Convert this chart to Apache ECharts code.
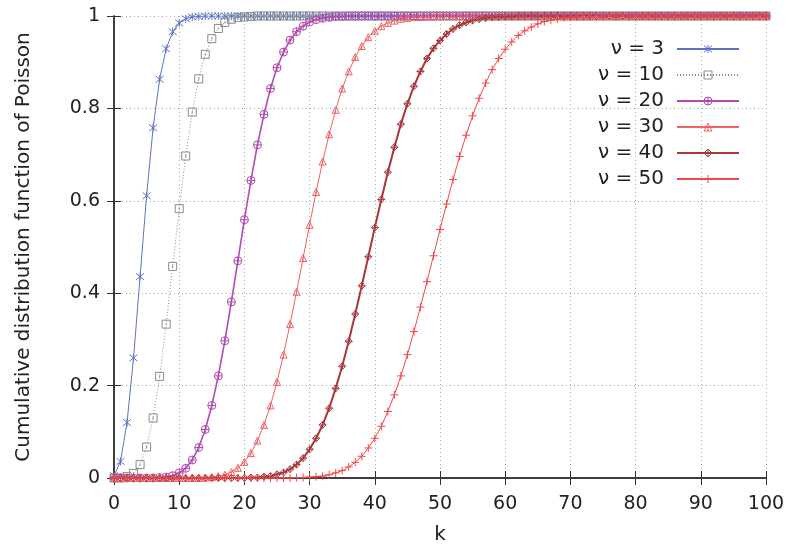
<!DOCTYPE html>
<html>
<head>
<meta charset="utf-8">
<script src="https://cdn.jsdelivr.net/npm/echarts@6/dist/echarts.min.js"></script>
<style>
  html, body { margin: 0; padding: 0; background: #fff; }
  #chart { width: 793px; height: 546px; }
</style>
</head>
<body>
<div id="chart"></div>
<script>
// k = 0..100
var ks = [
  0, 1, 2, 3, 4, 5, 6, 7, 8, 9,
  10, 11, 12, 13, 14, 15, 16, 17, 18, 19,
  20, 21, 22, 23, 24, 25, 26, 27, 28, 29,
  30, 31, 32, 33, 34, 35, 36, 37, 38, 39,
  40, 41, 42, 43, 44, 45, 46, 47, 48, 49,
  50, 51, 52, 53, 54, 55, 56, 57, 58, 59,
  60, 61, 62, 63, 64, 65, 66, 67, 68, 69,
  70, 71, 72, 73, 74, 75, 76, 77, 78, 79,
  80, 81, 82, 83, 84, 85, 86, 87, 88, 89,
  90, 91, 92, 93, 94, 95, 96, 97, 98, 99,
  100
]

var nu3 = [
  0.005, 0.036, 0.120, 0.260, 0.436, 0.611, 0.758, 0.863, 0.929, 0.966,
  0.985, 0.994, 0.998, 0.999, 1, 1, 1, 1, 1, 1,
  1, 1, 1, 1, 1, 1, 1, 1, 1, 1,
  1, 1, 1, 1, 1, 1, 1, 1, 1, 1,
  1, 1, 1, 1, 1, 1, 1, 1, 1, 1,
  1, 1, 1, 1, 1, 1, 1, 1, 1, 1,
  1, 1, 1, 1, 1, 1, 1, 1, 1, 1,
  1, 1, 1, 1, 1, 1, 1, 1, 1, 1,
  1, 1, 1, 1, 1, 1, 1, 1, 1, 1,
  1, 1, 1, 1, 1, 1, 1, 1, 1, 1,
  1
]
var nu10 = [
  0, 0, 0.003, 0.010, 0.029, 0.067, 0.130, 0.220, 0.333, 0.458,
  0.583, 0.697, 0.792, 0.864, 0.917, 0.951, 0.973, 0.986, 0.993, 0.997,
  0.998, 0.999, 1, 1, 1, 1, 1, 1, 1, 1,
  1, 1, 1, 1, 1, 1, 1, 1, 1, 1,
  1, 1, 1, 1, 1, 1, 1, 1, 1, 1,
  1, 1, 1, 1, 1, 1, 1, 1, 1, 1,
  1, 1, 1, 1, 1, 1, 1, 1, 1, 1,
  1, 1, 1, 1, 1, 1, 1, 1, 1, 1,
  1, 1, 1, 1, 1, 1, 1, 1, 1, 1,
  1, 1, 1, 1, 1, 1, 1, 1, 1, 1,
  1
]
var nu20 = [
  0, 0, 0, 0, 0, 0, 0, 0.001, 0.002, 0.005,
  0.011, 0.021, 0.039, 0.066, 0.105, 0.157, 0.221, 0.297, 0.381, 0.470,
  0.559, 0.644, 0.721, 0.787, 0.843, 0.888, 0.922, 0.948, 0.966, 0.978,
  0.987, 0.992, 0.995, 0.997, 0.999, 0.999, 1, 1, 1, 1,
  1, 1, 1, 1, 1, 1, 1, 1, 1, 1,
  1, 1, 1, 1, 1, 1, 1, 1, 1, 1,
  1, 1, 1, 1, 1, 1, 1, 1, 1, 1,
  1, 1, 1, 1, 1, 1, 1, 1, 1, 1,
  1, 1, 1, 1, 1, 1, 1, 1, 1, 1,
  1, 1, 1, 1, 1, 1, 1, 1, 1, 1,
  1
]
var nu30 = [
  0, 0, 0, 0, 0, 0, 0, 0, 0, 0,
  0, 0, 0, 0, 0.001, 0.002, 0.004, 0.007, 0.013, 0.022,
  0.035, 0.054, 0.081, 0.115, 0.157, 0.208, 0.267, 0.333, 0.403, 0.476,
  0.548, 0.619, 0.685, 0.744, 0.797, 0.843, 0.880, 0.911, 0.935, 0.954,
  0.968, 0.978, 0.985, 0.990, 0.994, 0.996, 0.998, 0.998, 0.999, 0.999,
  1, 1, 1, 1, 1, 1, 1, 1, 1, 1,
  1, 1, 1, 1, 1, 1, 1, 1, 1, 1,
  1, 1, 1, 1, 1, 1, 1, 1, 1, 1,
  1, 1, 1, 1, 1, 1, 1, 1, 1, 1,
  1, 1, 1, 1, 1, 1, 1, 1, 1, 1,
  1
]
var nu40 = [
  0, 0, 0, 0, 0, 0, 0, 0, 0, 0,
  0, 0, 0, 0, 0, 0, 0, 0, 0, 0,
  0, 0.001, 0.001, 0.003, 0.004, 0.008, 0.012, 0.019, 0.029, 0.043,
  0.062, 0.086, 0.115, 0.151, 0.194, 0.242, 0.296, 0.355, 0.416, 0.479,
  0.542, 0.603, 0.662, 0.716, 0.766, 0.810, 0.848, 0.880, 0.908, 0.930,
  0.947, 0.961, 0.972, 0.980, 0.986, 0.990, 0.993, 0.996, 0.997, 0.998,
  0.999, 0.999, 1, 1, 1, 1, 1, 1, 1, 1,
  1, 1, 1, 1, 1, 1, 1, 1, 1, 1,
  1, 1, 1, 1, 1, 1, 1, 1, 1, 1,
  1, 1, 1, 1, 1, 1, 1, 1, 1, 1,
  1
]
var nu50 = [
  0, 0, 0, 0, 0, 0, 0, 0, 0, 0,
  0, 0, 0, 0, 0, 0, 0, 0, 0, 0,
  0, 0, 0, 0, 0, 0, 0, 0, 0.001, 0.001,
  0.002, 0.003, 0.004, 0.007, 0.011, 0.016, 0.024, 0.034, 0.047, 0.065,
  0.086, 0.112, 0.144, 0.180, 0.221, 0.267, 0.317, 0.370, 0.425, 0.481,
  0.538, 0.593, 0.646, 0.696, 0.742, 0.784, 0.822, 0.855, 0.884, 0.908,
  0.928, 0.944, 0.958, 0.968, 0.976, 0.983, 0.988, 0.991, 0.994, 0.996,
  0.997, 0.998, 0.999, 0.999, 0.999, 1, 1, 1, 1, 1,
  1, 1, 1, 1, 1, 1, 1, 1, 1, 1,
  1, 1, 1, 1, 1, 1, 1, 1, 1, 1,
  1
]

var names = ['ν = 3', 'ν = 10', 'ν = 20', 'ν = 30', 'ν = 40', 'ν = 50']
var FONT = '"DejaVu Sans", Verdana, sans-serif'

// outline marker shapes (stroke only)
var SYM = {
  star: 'path://M-1,-1L1,1M-1,1L1,-1M0,-1.2L0,1.2',
  square: 'path://M-1,-1L1,-1L1,1L-1,1ZM0,-0.25L0,0.25',
  circle: 'path://M-1,0A1,1,0,1,1,1,0A1,1,0,1,1,-1,0ZM-1,0L1,0M0,-1L0,1',
  triangle: 'path://M0,-1L1,0.8L-1,0.8ZM0,-0.3L0,0.8',
  diamond: 'path://M0,-1L1,0L0,1L-1,0ZM-1,0L1,0M0,-1L0,1',
  plus: 'path://M-1,0L1,0M0,-1L0,1'
}

var makeSeries = (name, vals, color, sym, size, width, type)=>{
  return {
    name: name,
    type: 'line',
    data: ks.map((k, i)=>[k, vals[i]]),
    symbol: sym,
    symbolSize: size,
    showAllSymbol: true,
    lineStyle: { color: color, width: width, type: type || 'solid' },
    itemStyle: { color: 'rgba(0,0,0,0)', borderColor: color, borderWidth: 1 },
    emphasis: { disabled: true },
    animation: false
  }
}

var chart = echarts.init(document.getElementById('chart'))

var axisLineStyle = { color: '#333', width: 1.5 }

chart.setOption({
  backgroundColor: '#fff',
  textStyle: { fontFamily: FONT },
  grid: { left: 114, right: 27, top: 16, bottom: 68, outerBoundsMode: 'none', containLabel: false },
  legend: {
    orient: 'vertical',
    right: 48,
    top: 34,
    align: 'right',
    itemWidth: 62,
    itemHeight: 10,
    itemGap: 6,
    itemStyle: { color: 'rgba(0,0,0,0)', borderWidth: 1 },
    textStyle: { fontFamily: FONT, fontSize: 20, color: '#222', padding: [0, 8, 0, 0] },
    data: names
  },
  xAxis: [{
    type: 'value',
    min: 0, max: 100, interval: 10,
    name: 'k',
    nameLocation: 'middle',
    nameGap: 47,
    nameTextStyle: { fontFamily: FONT, fontSize: 20, color: '#222' },
    axisLine: { lineStyle: axisLineStyle },
    axisTick: { inside: true, length: 7, lineStyle: { color: '#333' } },
    axisLabel: { fontFamily: FONT, fontSize: 19, color: '#222', margin: 17 },
    splitLine: { show: true, lineStyle: { color: '#aaa', type: [1, 3] } }
  }, {
    type: 'value',
    position: 'top',
    min: 0, max: 100, interval: 10,
    axisLine: { lineStyle: axisLineStyle },
    axisTick: { inside: true, length: 7, lineStyle: { color: '#333' } },
    axisLabel: { show: false },
    splitLine: { show: false }
  }],
  yAxis: [{
    type: 'value',
    min: 0, max: 1, interval: 0.2,
    name: 'Cumulative distribution function of Poisson',
    nameLocation: 'middle',
    nameGap: 80,
    nameTextStyle: { fontFamily: FONT, fontSize: 20, color: '#222' },
    axisLine: { show: true, lineStyle: axisLineStyle },
    axisTick: { show: true, inside: true, length: 7, lineStyle: { color: '#333' } },
    axisLabel: { fontFamily: FONT, fontSize: 19, color: '#222', margin: 14 },
    splitLine: { show: true, lineStyle: { color: '#aaa', type: [1, 3] } }
  }, {
    type: 'value',
    position: 'right',
    min: 0, max: 1, interval: 0.2,
    axisLine: { show: true, lineStyle: axisLineStyle },
    axisTick: { show: true, inside: true, length: 7, lineStyle: { color: '#333' } },
    axisLabel: { show: false },
    splitLine: { show: false }
  }],
  series: [
    makeSeries(names[0], nu3, '#5a73c4', SYM.star, 8, 1),
    makeSeries(names[1], nu10, '#8a8a8a', SYM.square, 8, 1, [1, 2]),
    makeSeries(names[2], nu20, '#b04cb0', SYM.circle, 8, 1.6),
    makeSeries(names[3], nu30, '#ee6262', SYM.triangle, 7, 1),
    makeSeries(names[4], nu40, '#a83838', SYM.diamond, 7, 2),
    makeSeries(names[5], nu50, '#f04848', SYM.plus, 8, 1)
  ]
})
</script>
</body>
</html>
